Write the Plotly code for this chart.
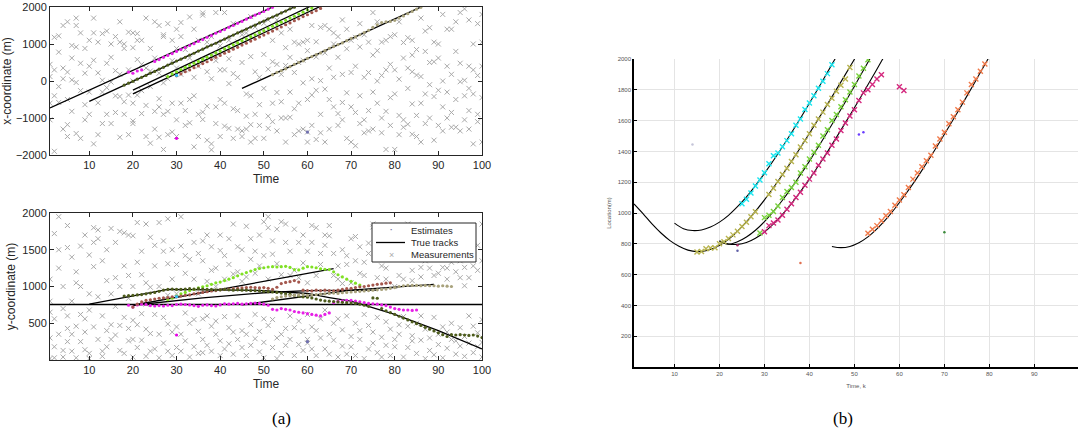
import plotly.graph_objects as go

# ---------------- data: panel (a) ----------------
# clutter measurements per time step (t = 1..100)
clutter_x = [
 [-600,450,-1050,120],[1180,-400,300,-1900],[1220,-150,780,-580],[-1300,350,60,1500],[1600,-500,-1500,240,-1180],
 [960,-820,30,620],[1700,-1420,920,-40,1500],[-1550,1300,480,-260],[880,-1050,210,-640],[-900,1100,400,-300],
 [1700,-1700,1300,560],[-1450,1050,-590,220],[1280,-300,20,-1150],[-900,480,1350,-180],[-1150,640,1000,-30],
 [-400,280,-850,1200],[1600,-1520,1050,-420,180],[880,-900,1000,-560],[-1450,300,1320,-380],[1300,-1150,900,-600,0,-1080],
 [1280,-380,580,1100],[-880,450,1100,-260],[1700,-660,-1500,350],[-1680,880,-150,270],[1600,-1300,-820,620],
 [1500,-1520,-700,210,-480],[1250,-900,-50,1200,-1850],[1550,-1450,60,-820],[1100,550,-1380,-600],[1400,-1500,880,350,-1050],
 [1580,-600,1200,180],[850,-1200,300,-800],[1730,-1130,-500,620],[-1780,1400,100,-400],[-1500,400,1100,-900],
 [1840,-840,580,-1040,1780],[1050,-680,250,-1600],[-1860,1200,60,-1700,680],[1850,-1150,550,-700],[-1500,950,-500,300],
 [1850,-1220,300,-600],[1100,-1280,600,-70],[-1550,1550,200,-750],[1060,-800,100,-1300],[-1350,500,1250,-1500],
 [-1300,1300,-350,-950],[1740,-1180,660,-400,-1650],[-1550,1460,250,-900],[1320,-640,-1200,100],[-1550,720,1560,-200],
 [-1280,1650,320,-950],[1100,-600,-1100,520],[1650,-1350,450,-310],[1300,-1000,180,-560],[-1000,900,-1650,420],
 [1400,-300,-980,640],[-750,1050,-1450,230],[1000,-600,-1350,500],[1050,-1300,-50,560],[-1380,1100,-500,820,-1650],
 [1500,-1200,-380,60],[1060,-1580,650,-250],[-900,1450,10,-1400],[1500,-1650,760,-220],[-1300,1400,350,-500],
 [1300,-700,100,1000],[-880,640,-1200,1200],[1650,-1050,180,-580],[-1550,870,-320,1400],[-1650,1100,230,-700],
 [1180,-1750,400,-850],[-1150,920,-400,1550],[1250,-1050,100,-1400],[1050,-1350,230,-800],[1850,-1300,700,-300],
 [1600,-600,0,820],[1050,-1000,150,-1400],[-1850,1100,-820,300],[1200,-1200,450,-450],[1250,-1850,300,-350],
 [1600,-1450,50,-930],[-1050,620,-1250,1040],[1170,-1170,350,-200],[1100,-1440,700,-620,250],[-1500,850,160,-930],
 [1700,-1650,120,-600],[-1150,1350,-350,800],[1440,-1000,500,-100],[1050,-1600,520,-420],[-1200,620,1000,-250],
 [1800,-1350,0,-700],[1400,-1000,400,-300],[1400,-850,180,-1250],[1600,-500,-1250,800],[-1350,1850,480,-20],
 [1950,-400,20,-1050],[-800,1650,-1300,400,-200],[1000,-1700,-350,300],[1550,-900,150,-1100],[1800,-1650,400,-450,1050],
]
clutter_y = [
 [1100,300,20,800,650],[1720,180,560,30],[1950,350,1250,1500],[130,700,1000,40],[1830,1530,600,250,430],
 [1400,350,120,800],[1050,460,30,1200],[1000,250,620,1550],[1700,140,560,380],[1430,900,20,680,90],
 [1800,1270,450,1600],[1650,1770,280,860],[1350,120,600,50],[1080,400,180,1500],[1790,480,280,900],
 [1120,1600,340,730],[1750,470,130,1000],[1730,580,90,1280],[1700,1150,430,260,840],[1690,540,280,1000,40],
 [1870,1330,480,170],[1160,1480,270,630],[1850,420,1050,50,760],[1670,990,360,120],[1560,1280,150,620],
 [1870,1000,350,30],[1620,1480,230,580],[1920,1310,120,490,880],[1500,1100,380,60],[1300,900,450,170],
 [1950,1550,350,120],[1180,1420,640,260],[1750,1370,500,40],[1600,1100,550,180],[1450,900,390,90],
 [1620,1350,560,280,100],[1700,1070,600,200],[1540,1220,460,120],[1250,1000,530,350],[1700,1490,260,60],
 [1420,1100,590,150],[1650,1300,440,220],[1170,1850,380,80],[1540,1200,600,280],[1500,1070,400,170],
 [1820,1130,350,60],[1650,1370,480,200],[1480,1180,620,290],[1700,1280,390,110],[1880,1420,560,240,30],
 [1950,1800,1100,470],[1440,1620,550,170],[1310,1780,300,20],[1880,1160,350,90],[1850,1600,430,200],
 [1150,1480,600,280],[1780,1220,440,60],[1600,1120,210,530],[1320,1700,390,130],[1480,1050,280,230,620],
 [1830,1600,450,150],[1800,1150,400,60],[1300,1450,560,300],[1700,1560,680,150],[1830,1690,350,80],
 [1450,1150,270,500],[1100,1280,560,40],[1500,1040,410,190],[1300,1420,600,80],[1650,1050,320,180],
 [1350,1680,500,60],[1540,1180,280,400],[1150,1330,620,20],[1590,1450,470,150],[1850,1810,380,230],
 [1120,1450,580,100],[1670,1280,310,40],[1250,1100,520,200],[1750,1380,420,60],[1620,1000,280,180],
 [1150,1460,350,480],[1380,1100,590,40],[1850,1590,460,170],[1080,1220,330,260],[1750,1430,500,90],
 [1260,1130,270,600],[1350,1570,420,20],[1440,1250,300,130],[1650,1150,580,70],[1180,1390,350,210],
 [1260,1520,450,30],[1100,1250,380,160],[1330,1620,500,280],[1200,1470,260,80],[1120,1350,440,190],
 [1260,1010,320,50],[1570,1120,600,230],[1280,1430,460,100],[1560,1220,370,180],[1850,1350,550,40,240],
]

# true tracks, x-coordinate (straight segments: start/end)
trk_x_t = [[1, 60], [10, 65], [20, 66], [20, 68], [45, 90]]
trk_x_v = [[-730, 2427], [-550, 2437], [-245, 2317], [-350, 2295], [-200, 2215]]

# true tracks, y-coordinate
trk_y_t = [[1, 100],
           [10, 28, 50, 60, 65, 70, 80, 90, 100],
           [20, 66],
           [20, 36, 50, 60, 76],
           [45, 57, 70, 89]]
trk_y_v = [[755, 755],
           [760, 960, 945, 905, 850, 800, 620, 400, 150],
           [745, 1242],
           [745, 845, 915, 945, 950],
           [750, 850, 950, 1030]]

# estimates, x-coordinate
est_x = {
 "magenta": ([19,20,21,22] + list(range(25, 53)),
             [240,210,270,300,530,580,640,690,740,800,850,905,960,1010,1070,1120,1180,1230,1290,1340,
              1390,1450,1500,1560,1610,1670,1720,1780,1830,1880,1940,1990]),
 "olive": (list(range(18, 58)),
           [-110,-60,-10,50,100,150,210,260,320,370,430,480,540,590,640,700,750,810,860,920,
            970,1020,1080,1130,1190,1240,1300,1350,1400,1460,1510,1570,1620,1680,1730,1780,1840,1890,1950,1995]),
 "green": (list(range(28, 62)),
           [120,190,250,310,370,420,480,530,590,640,700,760,810,870,920,980,1030,1090,1140,1200,
            1250,1310,1360,1420,1480,1530,1590,1640,1700,1750,1810,1860,1920,1970]),
 "brown": (list(range(30, 64)),
           [140,195,250,300,360,410,470,520,580,640,690,750,800,860,910,970,1020,1080,1130,1190,
            1240,1300,1350,1410,1460,1520,1570,1630,1680,1740,1790,1850,1900,1960]),
 "khaki": (list(range(52, 87)),
           [170,235,280,330,390,450,500,545,610,660,715,760,820,880,930,985,1030,1090,1150,1190,
            1250,1310,1370,1450,1520,1580,1600,1610,1640,1700,1760,1820,1880,1940,1990]),
}
stray_x = ([30, 30, 60], [-1550, 150, -1380], ["#e600e6", "#33bbee", "#7070b0"])

# estimates, y-coordinate
est_y = {
 "magenta": (list(range(19, 86)),
             [745,720,750,760,755,740,735,740,735,745,740,755,760,755,750,740,730,745,750,740,
              735,750,765,760,765,770,760,765,770,775,770,760,745,690,680,700,690,680,660,650,
              640,630,620,610,600,620,640,780,800,805,810,810,800,790,780,770,765,760,750,740,
              720,700,690,680,680,675,680]),
 "green": (list(range(28, 73)),
           [820,840,870,900,920,945,960,980,995,1010,1030,1050,1060,1080,1100,1120,1145,1170,1190,1210,
            1230,1245,1255,1265,1270,1265,1270,1275,1260,1230,1225,1250,1270,1265,1255,1240,1235,1230,1200,1160,
            1130,1100,1070,1045,1020]),
 "brown": (list(range(20, 80)),
           [720,760,790,810,820,830,840,845,850,860,860,870,880,885,900,910,920,930,940,945,
            955,960,965,970,975,980,985,990,985,980,985,975,960,990,1040,1055,1065,1080,1060,950,
            945,940,950,945,950,945,940,950,960,970,975,985,995,1000,1010,1020,1030,1035,1045,1050]),
 "olive": (list(range(18, 101)),
           [870,875,880,885,890,900,910,920,935,950,960,965,960,960,965,970,965,970,965,960,
            960,955,955,960,955,950,955,950,950,945,945,940,935,930,925,920,910,900,895,880,
            870,860,855,845,830,815,805,800,795,790,785,780,775,770,760,745,730,845,840,700,
            670,645,620,595,570,545,520,495,470,445,420,395,370,345,320,345,340,345,340,335,
            340,325,305]),
 "khaki": (list(range(52, 94)),
           [830,850,860,870,875,880,885,890,880,885,890,895,900,905,910,905,915,920,925,930,
            935,940,945,950,955,960,965,975,985,1000,1010,1015,1015,1015,1010,1015,1010,1010,1005,1010,
            1005,1000]),
}
stray_y = ([30, 30, 60], [340, 862, 250], ["#e600e6", "#33bbee", "#7070b0"])

est_colors = {"magenta": "#e620e6", "olive": "#4d5c1c", "green": "#80e025",
              "brown": "#a4584e", "khaki": "#a8a27c"}

legend_labels = ["Estimates", "True tracks", "Measurements"]

# ---------------- data: panel (b) ----------------
curves_b_t = [
 [1,3,5,7,9,11,13,15,17,19,21,23,25,27,30,33,36,39,42,45,48,51],
 [10,12,14,16,18,20,22,24,26,28,30,33,36,39,42,45,47],
 [20,22,24,26,28,30,32,34,36,38,40,42,44,46,48,50,52,54],
 [20,22,24,26,28,30,32,34,36,38,40,42,44,46,48,50,52,54,56,57],
 [45,47,49,51,53,55,57,59,61,63,65,67,69,71,73,75,77,79,80],
]
curves_b_v = [
 [1059,996,929,870,821,784,759,749,755,775,808,854,911,976,1085,1206,1335,1471,1611,1754,1900,2048],
 [934,898,886,890,909,941,985,1041,1105,1178,1257,1385,1521,1664,1812,1965,2068],
 [820,797,813,844,888,944,1010,1083,1163,1248,1337,1430,1526,1623,1722,1823,1927,2030],
 [817,799,796,808,836,876,929,991,1061,1139,1220,1307,1397,1491,1587,1684,1783,1883,1985,2037],
 [783,775,783,807,845,897,958,1029,1107,1189,1277,1369,1463,1560,1658,1759,1861,1964,2016],
]
est_b = [
 ("#19e6f0", list(range(25, 46)),
  [1060,1090,1130,1175,1215,1262,1320,1372,1390,1430,1470,1515,1570,1610,1672,1715,1762,1810,1855,1905,1962]),
 ("#b8b450", list(range(15, 29)) + list(range(31, 50)),
  [747,750,768,772,775,800,814,835,858,882,912,940,975,1008,
   1120,1160,1205,1250,1290,1335,1378,1428,1470,1515,1570,1610,1655,1705,1745,1790,1830,1870,1945]),
 ("#78d23c", list(range(29, 54)),
  [870,970,985,1010,1045,1100,1140,1165,1200,1260,1300,1350,1395,1440,1500,1540,1600,1640,1690,1735,
   1785,1835,1890,1940,1995]),
 ("#d4287e", list(range(30, 57)) + [60, 61],
  [878,918,935,955,985,1025,1060,1100,1135,1180,1220,1260,1310,1350,1390,1440,1480,1535,1585,1630,
   1670,1730,1780,1800,1835,1870,1897,1820,1795]),
 ("#f07a4a", list(range(53, 80)),
  [868,895,918,950,982,1010,1050,1085,1118,1165,1220,1260,1300,1340,1375,1435,1480,1525,1580,1625,
   1670,1720,1780,1835,1870,1920,1968]),
]
stray_b = ([14, 24, 24, 38, 51, 52, 70], [1445, 790, 755, 675, 1510, 1525, 875],
           ["#c4c4d8", "#b0306a", "#6060a8", "#e07050", "#6a3cff", "#6a3cff", "#3a8a3a"])

# ---------------- figure ----------------
fig = go.Figure()
W, H = 1078, 445

def flat(cl):
    ts, vs = [], []
    for i, vals in enumerate(cl):
        for v in vals:
            ts.append(i + 1)
            vs.append(v)
    return ts, vs

meas_style = dict(mode="markers", marker=dict(symbol="x-thin-open", size=5, color="#a9a9a9",
                                             line=dict(width=1, color="#a9a9a9")))
# panel (a) top
tx, vx = flat(clutter_x)
fig.add_trace(go.Scatter(x=tx, y=vx, xaxis="x", yaxis="y", hoverinfo="skip", **meas_style))
for t, v in zip(trk_x_t, trk_x_v):
    fig.add_trace(go.Scatter(x=t, y=v, xaxis="x", yaxis="y", mode="lines",
                             line=dict(color="black", width=1.3)))
for k, (t, v) in est_x.items():
    fig.add_trace(go.Scatter(x=t, y=v, xaxis="x", yaxis="y", mode="markers",
                             marker=dict(size=3.2, color=est_colors[k])))
fig.add_trace(go.Scatter(x=stray_x[0], y=stray_x[1], xaxis="x", yaxis="y", mode="markers",
                         marker=dict(size=3.2, color=stray_x[2])))

# panel (a) bottom
ty, vy = flat(clutter_y)
fig.add_trace(go.Scatter(x=ty, y=vy, xaxis="x2", yaxis="y2", hoverinfo="skip", **meas_style))
for t, v in zip(trk_y_t, trk_y_v):
    fig.add_trace(go.Scatter(x=t, y=v, xaxis="x2", yaxis="y2", mode="lines",
                             line=dict(color="black", width=1.3)))
for k, (t, v) in est_y.items():
    fig.add_trace(go.Scatter(x=t, y=v, xaxis="x2", yaxis="y2", mode="markers",
                             marker=dict(size=3.2, color=est_colors[k])))
fig.add_trace(go.Scatter(x=stray_y[0], y=stray_y[1], xaxis="x2", yaxis="y2", mode="markers",
                         marker=dict(size=3.2, color=stray_y[2])))

# panel (b)
for t, v in zip(curves_b_t, curves_b_v):
    fig.add_trace(go.Scatter(x=t, y=v, xaxis="x3", yaxis="y3", mode="lines",
                             line=dict(color="black", width=1.1, shape="spline")))
for c, t, v in est_b:
    fig.add_trace(go.Scatter(x=t, y=v, xaxis="x3", yaxis="y3", mode="markers",
                             marker=dict(symbol="x-thin-open", size=5, color=c, line=dict(width=1.4, color=c))))
fig.add_trace(go.Scatter(x=stray_b[0], y=stray_b[1], xaxis="x3", yaxis="y3", mode="markers",
                         marker=dict(size=2.5, color=stray_b[2])))

left_font = dict(family="Liberation Sans, Arial", size=11, color="#262626")
def left_axis(dom, rng, tickvals, title, **kw):
    return dict(domain=dom, range=rng, tickvals=tickvals, showgrid=False, zeroline=False,
                showline=True, linecolor="#262626", linewidth=1, mirror="ticks",
                ticks="inside", ticklen=4, tickcolor="#262626", tickfont=left_font,
                title=dict(text=title, font=dict(family="Liberation Sans, Arial", size=12, color="#262626"),
                           standoff=4),
                automargin=False, **kw)

xl = [50 / W, 482 / W]

# compact legend box for the lower-left panel (drawn as paper-anchored decoration)
lx0, lx1, ly0, ly1 = 372 / W, 476 / W, 1 - 262 / H, 1 - 223 / H
row_y = [1 - 230 / H, 1 - 242.5 / H, 1 - 255 / H]
shapes = [
    dict(type="rect", xref="paper", yref="paper", x0=lx0, x1=lx1, y0=ly0, y1=ly1,
         line=dict(color="#262626", width=1), fillcolor="white", layer="above"),
    dict(type="line", xref="paper", yref="paper", x0=376 / W, x1=405 / W, y0=row_y[1], y1=row_y[1],
         line=dict(color="black", width=1.3), layer="above"),
]
ann = []
for lbl, yy in zip(legend_labels, row_y):
    ann.append(dict(text=lbl, x=409 / W, y=yy, xref="paper", yref="paper", xanchor="left",
                    yanchor="middle", showarrow=False,
                    font=dict(family="Liberation Sans, Arial", size=9.5, color="#262626")))
ann.append(dict(text="•", x=391 / W, y=row_y[0], xref="paper", yref="paper", showarrow=False,
                xanchor="center", yanchor="middle", font=dict(size=6, color="#7070a0")))
ann.append(dict(text="×", x=391 / W, y=row_y[2], xref="paper", yref="paper", showarrow=False,
                xanchor="center", yanchor="middle",
                font=dict(family="Liberation Sans, Arial", size=9, color="#a9a9a9")))
ann += [
    dict(text="(a)", x=270 / W, y=1 - 430 / H, xref="paper", yref="paper", showarrow=False,
         font=dict(family="Liberation Serif, Times New Roman", size=17, color="black")),
    dict(text="(b)", x=855 / W, y=1 - 430 / H, xref="paper", yref="paper", showarrow=False,
         font=dict(family="Liberation Serif, Times New Roman", size=17, color="black")),
]

fig.update_layout(
    width=W, height=H, margin=dict(l=0, r=0, t=0, b=0), showlegend=False,
    paper_bgcolor="white", plot_bgcolor="white",
    xaxis=left_axis(xl, [1, 100], list(range(10, 101, 10)), "Time", anchor="y"),
    yaxis=left_axis([1 - 155 / H, 1 - 7 / H], [-2000, 2000], [-2000, -1000, 0, 1000, 2000],
                    "x-coordinate (m)", anchor="x"),
    xaxis2=left_axis(xl, [1, 100], list(range(10, 101, 10)), "Time", anchor="y2"),
    yaxis2=left_axis([1 - 360 / H, 1 - 213 / H], [0, 2000], [500, 1000, 1500, 2000],
                     "y-coordinate (m)", anchor="x2"),
    xaxis3=dict(domain=[634 / W, 1.0], range=[1, 99.7], anchor="y3", tickvals=list(range(10, 101, 10)),
                showgrid=True, gridcolor="#e4e4e4", gridwidth=1, zeroline=False,
                showline=True, linecolor="black", linewidth=1.5, ticks="inside", ticklen=3,
                tickcolor="black", tickfont=dict(family="Liberation Sans, Arial", size=6, color="#555"),
                title=dict(text="Time, k", font=dict(family="Liberation Sans, Arial", size=6, color="#555"),
                           standoff=8), automargin=False),
    yaxis3=dict(domain=[1 - 367 / H, 1 - 59 / H], range=[0, 2000], anchor="x3",
                tickvals=list(range(200, 2001, 200)),
                showgrid=True, gridcolor="#e4e4e4", gridwidth=1, zeroline=False,
                showline=True, linecolor="black", linewidth=1.5, ticks="inside", ticklen=3,
                tickcolor="black", tickfont=dict(family="Liberation Sans, Arial", size=6, color="#555"),
                title=dict(text="Location(m)", font=dict(family="Liberation Sans, Arial", size=6, color="#555"),
                           standoff=6), automargin=False),
    shapes=shapes,
    annotations=ann,
)

fig.write_html("out.html")
